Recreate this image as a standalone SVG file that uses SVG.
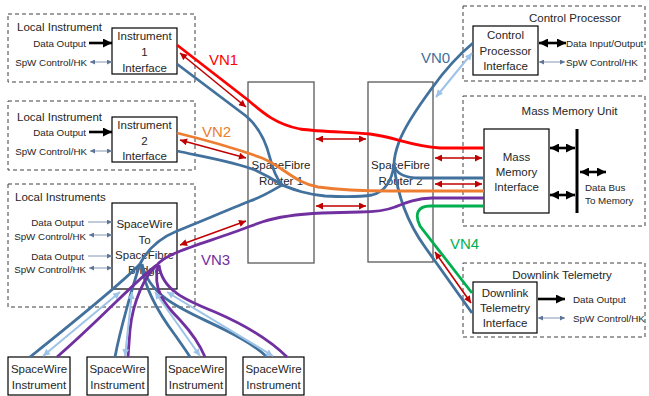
<svg xmlns="http://www.w3.org/2000/svg" width="649" height="396" viewBox="0 0 649 396">
  <defs>
    <marker id="mRed" viewBox="0 0 10 10" refX="10" refY="5" markerUnits="userSpaceOnUse" markerWidth="8" markerHeight="7" orient="auto-start-reverse">
      <path d="M0,0L10,5L0,10z" fill="#C00000"/>
    </marker>
    <marker id="mLB" viewBox="0 0 10 10" refX="10" refY="5" markerUnits="userSpaceOnUse" markerWidth="8" markerHeight="7" orient="auto-start-reverse">
      <path d="M0,0L10,5L0,10z" fill="#9DC3E6"/>
    </marker>
    <marker id="mBlk" viewBox="0 0 10 10" refX="10" refY="5" markerUnits="userSpaceOnUse" markerWidth="9" markerHeight="9" orient="auto-start-reverse">
      <path d="M0,0L10,5L0,10z" fill="#000"/>
    </marker>
    <marker id="mSpw" viewBox="0 0 10 10" refX="10" refY="5" markerUnits="userSpaceOnUse" markerWidth="6" markerHeight="5" orient="auto-start-reverse">
      <path d="M0,0L10,5L0,10z" fill="#5E7596"/>
    </marker>
  </defs>
  <style>
    .dash { fill: none; stroke: #404040; stroke-width: 1; stroke-dasharray: 4 3; }
    .box { fill: #fff; stroke: #000; stroke-width: 1.2; }
    .router { fill: #fff; stroke: #595959; stroke-width: 1.3; }
    text { font-family: "Liberation Sans", Arial, sans-serif; fill: #262626; }
    .t { font-size: 11.5px; text-anchor: middle; }
    .title { font-size: 11.5px; }
    .s { font-size: 9.8px; }
    .r { text-anchor: end; }
    .vn { font-size: 15px; }
    .thick { fill: none; stroke: #000; stroke-width: 2.6; }
    .thin { fill: none; stroke: #8497B0; stroke-width: 1; }
    .w { fill: none; stroke-width: 2.8; }
    .red { stroke: #FF0000; }
    .org { stroke: #ED7D31; }
    .blu { stroke: #41719C; }
    .pur { stroke: #7030A0; }
    .grn { stroke: #00B050; }
    .dr { fill: none; stroke: #C00000; stroke-width: 1.6; marker-start: url(#mRed); marker-end: url(#mRed); }
    .lb { fill: none; stroke: #9DC3E6; stroke-width: 2; marker-start: url(#mLB); marker-end: url(#mLB); }
  </style>

  <!-- Local instrument 1 -->
  <g id="local-instrument-1">
    <rect class="dash" x="8" y="14" width="187" height="68"/>
    <text class="title" x="17" y="31">Local Instrument</text>
    <rect class="box" x="112" y="28" width="65" height="46"/>
    <text class="t" x="144.5" y="40">Instrument</text>
    <text class="t" x="144.5" y="56">1</text>
    <text class="t" x="144.5" y="72">Interface</text>
    <text class="s r" x="86" y="46.5">Data Output</text>
    <text class="s r" x="87" y="65.5">SpW Control/HK</text>
    <path class="thick" d="M89,43 L112,43" marker-end="url(#mBlk)"/>
    <path class="thin" d="M90,62 L112,62" marker-start="url(#mSpw)" marker-end="url(#mSpw)"/>
  </g>

  <!-- Local instrument 2 -->
  <g id="local-instrument-2">
    <rect class="dash" x="8" y="101" width="187" height="69"/>
    <text class="title" x="17" y="121">Local Instrument</text>
    <rect class="box" x="112" y="117" width="65" height="45"/>
    <text class="t" x="144.5" y="129">Instrument</text>
    <text class="t" x="144.5" y="145">2</text>
    <text class="t" x="144.5" y="160">Interface</text>
    <text class="s r" x="86" y="135.5">Data Output</text>
    <text class="s r" x="87" y="154.5">SpW Control/HK</text>
    <path class="thick" d="M89,132 L112,132" marker-end="url(#mBlk)"/>
    <path class="thin" d="M90,151 L112,151" marker-start="url(#mSpw)" marker-end="url(#mSpw)"/>
  </g>

  <!-- Local instruments with SpaceWire to SpaceFibre bridge -->
  <g id="local-instruments">
    <rect class="dash" x="8" y="184" width="187" height="123"/>
    <text class="title" x="15" y="201">Local Instruments</text>
    <rect class="box" x="112" y="203" width="65" height="86"/>
    <text class="t" x="144.5" y="228">SpaceWire</text>
    <text class="t" x="144.5" y="244">To</text>
    <text class="t" x="144.5" y="259">SpaceFibre</text>
    <text class="t" x="144.5" y="274">Bridge</text>
    <text class="s r" x="84" y="225.5">Data Output</text>
    <text class="s r" x="86" y="239.5">SpW Control/HK</text>
    <text class="s r" x="84" y="259.5">Data Output</text>
    <text class="s r" x="86" y="272.5">SpW Control/HK</text>
    <path class="thin" d="M88,222 L112,222" marker-end="url(#mSpw)"/>
    <path class="thin" d="M89,235 L112,235" marker-start="url(#mSpw)" marker-end="url(#mSpw)"/>
    <path class="thin" d="M88,256 L112,256" marker-end="url(#mSpw)"/>
    <path class="thin" d="M89,268 L112,268" marker-start="url(#mSpw)" marker-end="url(#mSpw)"/>
  </g>

  <!-- Routers -->
  <g id="router-1">
    <rect class="router" x="248" y="82" width="66" height="181"/>
    <text class="t" x="281" y="169">SpaceFibre</text>
    <text class="t" x="281" y="185">Router 1</text>
  </g>
  <g id="router-2">
    <rect class="router" x="368" y="82" width="65" height="180"/>
    <text class="t" x="400.5" y="169">SpaceFibre</text>
    <text class="t" x="400.5" y="185">Router 2</text>
  </g>

  <!-- Control processor -->
  <g id="control-processor">
    <rect class="dash" x="463" y="6" width="182" height="75"/>
    <text class="title" x="575" y="22" text-anchor="middle">Control Processor</text>
    <rect class="box" x="473" y="26" width="65" height="49"/>
    <text class="t" x="505.5" y="39">Control</text>
    <text class="t" x="505.5" y="55">Processor</text>
    <text class="t" x="505.5" y="70">Interface</text>
    <path class="thick" d="M539,43 L566,43" marker-start="url(#mBlk)" marker-end="url(#mBlk)"/>
    <path class="thin" d="M539,62 L565,62" marker-start="url(#mSpw)" marker-end="url(#mSpw)"/>
    <text class="s" x="566" y="46.5">Data Input/Output</text>
    <text class="s" x="566" y="65.5">SpW Control/HK</text>
  </g>

  <!-- Mass memory unit -->
  <g id="mass-memory">
    <rect class="dash" x="463" y="96" width="182" height="130"/>
    <text class="title" x="569.5" y="115" text-anchor="middle">Mass Memory Unit</text>
    <rect class="box" x="484" y="129" width="65" height="84"/>
    <text class="t" x="516.5" y="161">Mass</text>
    <text class="t" x="516.5" y="176">Memory</text>
    <text class="t" x="516.5" y="191">Interface</text>
    <path d="M577,129 L577,213" stroke="#000" stroke-width="3"/>
    <path class="thick" d="M550,148 L575,148" marker-start="url(#mBlk)" marker-end="url(#mBlk)"/>
    <path class="thick" d="M550,195 L575,195" marker-start="url(#mBlk)" marker-end="url(#mBlk)"/>
    <path class="thick" d="M580,172 L606,172" marker-start="url(#mBlk)" marker-end="url(#mBlk)"/>
    <text class="s" x="585" y="190.5">Data Bus</text>
    <text class="s" x="585" y="203.5">To Memory</text>
  </g>

  <!-- Downlink telemetry -->
  <g id="downlink-telemetry">
    <rect class="dash" x="463" y="263" width="182" height="74"/>
    <text class="title" x="562" y="279" text-anchor="middle">Downlink Telemetry</text>
    <rect class="box" x="473" y="282" width="64" height="51"/>
    <text class="t" x="505" y="297">Downlink</text>
    <text class="t" x="505" y="312">Telemetry</text>
    <text class="t" x="505" y="327">Interface</text>
    <path class="thick" d="M538,299 L565,299" marker-end="url(#mBlk)"/>
    <path class="thin" d="M538,318 L565,318" marker-start="url(#mSpw)" marker-end="url(#mSpw)"/>
    <text class="s" x="573" y="302.5">Data Output</text>
    <text class="s" x="573" y="322">SpW Control/HK</text>
  </g>

  <!-- SpaceWire instruments -->
  <g id="spw-instrument-1">
    <rect class="box" x="8" y="357" width="62" height="38"/>
    <text class="t" x="39" y="373">SpaceWire</text>
    <text class="t" x="39" y="389">Instrument</text>
  </g>
  <g id="spw-instrument-2">
    <rect class="box" x="87" y="357" width="61" height="38"/>
    <text class="t" x="117.5" y="373">SpaceWire</text>
    <text class="t" x="117.5" y="389">Instrument</text>
  </g>
  <g id="spw-instrument-3">
    <rect class="box" x="166" y="357" width="60" height="38"/>
    <text class="t" x="196" y="373">SpaceWire</text>
    <text class="t" x="196" y="389">Instrument</text>
  </g>
  <g id="spw-instrument-4">
    <rect class="box" x="243" y="357" width="61" height="38"/>
    <text class="t" x="273.5" y="373">SpaceWire</text>
    <text class="t" x="273.5" y="389">Instrument</text>
  </g>

  <!-- Virtual network paths and links -->
  <g id="connectors">
    <!-- VN0 control network -->
    <path class="w blu" d="M177,64 L246,116 C258,126 266,142 270,158 C273,170 276,178 282,185"/>
    <path class="w blu" d="M177,151 C205,157 235,162 255,170 C268,176 276,181 282,185"/>
    <path class="w blu" d="M282,185 C270,192 262,197 250,201 C225,211 195,224 177,231 C160,238 148,248 140,264"/>
    <path class="w blu" d="M282,185 C295,190 305,194 325,196 C345,197 360,197 372,195 C385,192 392,180 394,165"/>
    <path class="w blu" d="M473,43 C455,58 442,74 432,88 C418,107 404,128 399,142 C396,150 394,158 394,165"/>
    <path class="w blu" d="M394,165 C396,174 404,178 420,178 L484,178"/>
    <path class="w blu" d="M394,165 C397,192 407,222 425,247 L472,313"/>
    <path class="w blu" d="M140,264 C120,285 70,325 30,357"/>
    <path class="w blu" d="M140,264 C133,285 120,330 115,357"/>
    <path class="w blu" d="M141,264 C145,290 160,315 175,335 C182,345 187,352 190,357"/>
    <path class="w blu" d="M142,264 C150,300 190,312 225,330 C245,340 258,348 267,357"/>

    <!-- VN1 -->
    <path class="w red" d="M177,45 L248,100 C262,112 275,124 300,129 C322,132 350,132 370,134 C395,137 410,146 440,148 L484,148"/>
    <!-- VN2 -->
    <path class="w org" d="M177,133 C210,141 240,150 262,158 C285,168 295,183 318,187 C340,190 360,191 390,191 L484,191"/>
    <!-- VN3 -->
    <path class="w pur" d="M484,198 L432,198 C417,198 405,203 395,207 C385,211 375,212 360,212 L322,213 C300,214 280,216 262,222 L248,227 C225,236 195,245 178,252 C168,256 161,260 157,265"/>
    <path class="w pur" d="M157,265 C140,276 100,320 57,357"/>
    <path class="w pur" d="M157,265 C145,276 133,300 130,330 L128,357"/>
    <path class="w pur" d="M158,265 C152,290 165,305 180,320 C192,333 200,345 205,357"/>
    <path class="w pur" d="M159,265 C162,290 185,300 215,312 C245,325 270,340 287,357"/>
    <!-- VN4 -->
    <path class="w grn" d="M484,206 L430,206 C418,206 414,214 420,226 L472,293"/>

    <!-- Link-level flow control -->
    <path class="dr" d="M180,53 L246,107"/>
    <path class="dr" d="M180,140 L246,158"/>
    <path class="dr" d="M180,245 L246,221"/>
    <path class="dr" d="M316,139 L366,139"/>
    <path class="dr" d="M316,206 L366,206"/>
    <path class="dr" d="M435,158 L482,158"/>
    <path class="dr" d="M435,184 L482,184"/>
    <path class="dr" d="M435,252 L471,303"/>

    <!-- SpaceWire links -->
    <path class="lb" d="M43,356 L120,292"/>
    <path class="lb" d="M125,356 L132,292"/>
    <path class="lb" d="M200,356 L155,292"/>
    <path class="lb" d="M273,356 L167,292"/>
    <path class="lb" d="M472,53 L436,97"/>

    <!-- Labels -->
    <text class="vn" x="209" y="65" fill="#FF0000" style="fill:#FF0000">VN1</text>
    <text class="vn" x="202" y="137" style="fill:#ED7D31">VN2</text>
    <text class="vn" x="201" y="265" style="fill:#7030A0">VN3</text>
    <text class="vn" x="421" y="63" style="fill:#41719C">VN0</text>
    <text class="vn" x="450" y="249" style="fill:#00B050">VN4</text>
  </g>
</svg>
